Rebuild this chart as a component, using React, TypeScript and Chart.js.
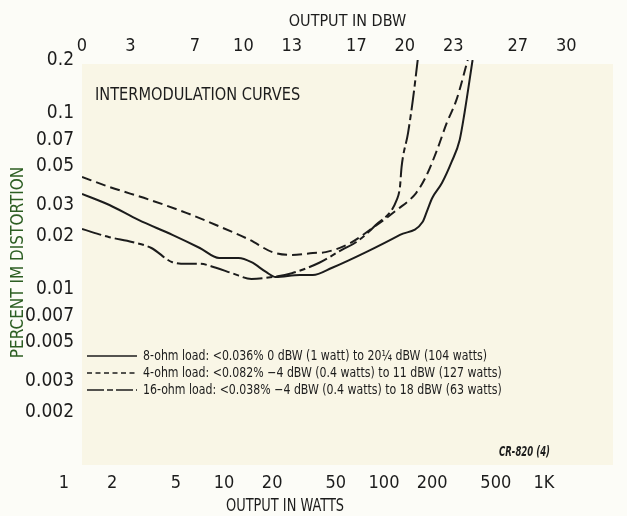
import React, { useEffect, useRef } from "react";
import { Chart, registerables } from "chart.js";

Chart.register(...registerables);

// ---- tick labels ----
const topTicksDbw = [0, 3, 7, 10, 13, 17, 20, 23, 27, 30];
const bottomTicksWatts = [1, 2, 5, 10, 20, 50, 100, 200, 500, 1000];
const bottomTickLabels = ["1", "2", "5", "10", "20", "50", "100", "200", "500", "1K"];
const yTicks = [0.2, 0.1, 0.07, 0.05, 0.03, 0.02, 0.01, 0.007, 0.005, 0.003, 0.002];

// ---- series (x: output in dBW, y: percent IM distortion) ----
const ohm8Dbw = [0, 1.7, 3.5, 5.6, 7.3, 8.5, 9.7, 10.5, 11.4, 12.0, 13.5, 14.3, 15.5, 17.6, 19.7, 21.1, 21.4, 21.7, 22.3, 22.9, 23.4, 23.7, 24.2];
const ohm8Pct = [0.0347, 0.03, 0.0247, 0.0203, 0.0171, 0.015, 0.015, 0.0142, 0.0125, 0.0117, 0.012, 0.012, 0.0132, 0.0162, 0.0203, 0.024, 0.0281, 0.0329, 0.04, 0.0527, 0.0703, 0.1, 0.2];

const ohm4Dbw = [0, 1.7, 4.2, 6.5, 8.3, 10.4, 11.8, 13.0, 14.3, 15.1, 16.6, 18.0, 19.5, 20.7, 21.3, 22.0, 22.6, 23.2, 23.9];
const ohm4Pct = [0.0433, 0.038, 0.0321, 0.027, 0.0231, 0.019, 0.0162, 0.0156, 0.016, 0.0162, 0.0182, 0.0222, 0.0281, 0.0351, 0.0433, 0.0617, 0.0878, 0.1186, 0.2];

const ohm16Dbw = [0, 1.7, 3.1, 4.3, 5.6, 6.5, 7.3, 8.3, 9.3, 10.5, 11.8, 13.0, 14.7, 16.1, 17.0, 18.2, 19.5, 19.7, 19.8, 20.2, 20.5, 20.8];
const ohm16Pct = [0.0219, 0.0197, 0.0185, 0.0171, 0.0142, 0.0139, 0.0139, 0.0132, 0.0123, 0.0114, 0.0117, 0.0123, 0.0141, 0.0167, 0.0185, 0.0231, 0.0321, 0.038, 0.0493, 0.0769, 0.1186, 0.2];

const legendLabels = [
  "8-ohm load: <0.036% 0 dBW (1 watt) to 20\u00BC dBW (104 watts)",
  "4-ohm load: <0.082% \u22124 dBW (0.4 watts) to 11 dBW (127 watts)",
  "16-ohm load: <0.038% \u22124 dBW (0.4 watts) to 18 dBW (63 watts)",
];
const legendDashes: number[][] = [[], [5, 3.5], [17, 3, 6, 3]];

const FONT = '"Liberation Sans Narrow", "DejaVu Sans Condensed", "Roboto Condensed", sans-serif';
const INK = "#1c1c1c";

const toPoints = (xs: number[], ys: number[]) => xs.map((x, i) => ({ x, y: ys[i] }));

// draw text horizontally squeezed by factor sx (condensed print face)
function condensedText(ctx: CanvasRenderingContext2D, text: string, x: number, y: number, sx: number) {
  ctx.save();
  ctx.translate(x, y);
  ctx.scale(sx, 1);
  ctx.fillText(text, 0, 0);
  ctx.restore();
}

const decorPlugin = {
  id: "decor",
  beforeDraw(chart: any) {
    const { ctx, chartArea: a, width, height } = chart;
    ctx.save();
    ctx.fillStyle = "#fcfcf7";
    ctx.fillRect(0, 0, width, height);
    ctx.fillStyle = "#f9f6e6";
    ctx.fillRect(a.left, a.top + 4, a.right - a.left, a.bottom - a.top - 4);
    ctx.restore();
  },
  afterDraw(chart: any) {
    const { ctx, chartArea: a } = chart;
    ctx.save();
    ctx.fillStyle = INK;
    ctx.textBaseline = "middle";
    // inner title
    ctx.font = `18px ${FONT}`;
    ctx.textAlign = "left";
    condensedText(ctx, "INTERMODULATION CURVES", a.left + 13, a.top + 35, 0.9);
    // legend
    ctx.font = `14px ${FONT}`;
    const sx = 344 / ctx.measureText(legendLabels[0]).width;
    legendLabels.forEach((t, i) => {
      const y = a.bottom - 109 + i * 17;
      ctx.beginPath();
      ctx.setLineDash(legendDashes[i]);
      ctx.lineWidth = 1.6;
      ctx.strokeStyle = INK;
      ctx.moveTo(a.left + 5, y);
      ctx.lineTo(a.left + 55, y);
      ctx.stroke();
      ctx.setLineDash([]);
      condensedText(ctx, t, a.left + 61, y, sx);
    });
    // figure code
    ctx.font = `italic bold 14px ${FONT}`;
    ctx.textAlign = "left";
    const cw = ctx.measureText("CR-820 (4)").width;
    condensedText(ctx, "CR-820 (4)", a.left + 417, a.bottom - 13, 51 / cw);
    // bottom axis title
    ctx.font = `18px ${FONT}`;
    ctx.textAlign = "center";
    condensedText(ctx, "OUTPUT IN WATTS", 285, chart.height - 10, 0.8);
    ctx.restore();
  },
};

export default function App() {
  const ref = useRef<HTMLCanvasElement | null>(null);
  useEffect(() => {
    if (!ref.current) return;
    const line = (label: string, xs: number[], ys: number[], dash: number[]) => ({
      label,
      data: toPoints(xs, ys),
      xAxisID: "x",
      yAxisID: "y",
      borderColor: INK,
      borderWidth: 2,
      borderDash: dash,
      pointRadius: 0,
      fill: false,
      cubicInterpolationMode: "monotone" as const,
    });
    const chart = new Chart(ref.current, {
      type: "line",
      data: {
        datasets: [
          line("8-ohm load", ohm8Dbw, ohm8Pct, []),
          line("4-ohm load", ohm4Dbw, ohm4Pct, [10, 5]),
          line("16-ohm load", ohm16Dbw, ohm16Pct, [20, 4, 6, 4]),
        ],
      },
      options: {
        responsive: false,
        animation: false,
        layout: { padding: { left: 0, right: 14, top: 0, bottom: 0 } },
        plugins: { legend: { display: false }, tooltip: { enabled: false } },
        scales: {
          x: {
            type: "linear",
            position: "top",
            min: 0,
            max: 32.9,
            grid: { display: false, drawTicks: false },
            border: { display: false },
            afterBuildTicks: (s: any) => {
              s.ticks = topTicksDbw.map((v) => ({ value: v }));
            },
            afterFit: (s: any) => {
              s.height = 60;
            },
            ticks: {
              autoSkip: false,
              maxRotation: 0,
              padding: 3,
              color: INK,
              font: { family: FONT, size: 18 },
              callback: (v: any) => String(v),
            },
            title: {
              display: true,
              text: "OUTPUT IN DBW",
              color: INK,
              font: { family: FONT, size: 16 },
              padding: { top: 12, bottom: 0 },
            },
          },
          xb: {
            type: "logarithmic",
            position: "bottom",
            min: 1.296,
            max: 2700,
            grid: { display: false, drawTicks: false },
            border: { display: false },
            afterBuildTicks: (s: any) => {
              s.ticks = bottomTicksWatts.map((v) => ({ value: v }));
            },
            afterFit: (s: any) => {
              s.height = 51;
            },
            ticks: {
              autoSkip: false,
              maxRotation: 0,
              padding: 8,
              color: INK,
              font: { family: FONT, size: 18 },
              callback: (v: any) => {
                const i = bottomTicksWatts.indexOf(Number(v));
                return i >= 0 ? bottomTickLabels[i] : "";
              },
            },
          },
          y: {
            type: "logarithmic",
            position: "left",
            min: 0.001,
            max: 0.2,
            grid: { display: false, drawTicks: false },
            border: { display: false },
            afterBuildTicks: (s: any) => {
              s.ticks = yTicks.map((v) => ({ value: v }));
            },
            afterFit: (s: any) => {
              s.width = 82;
            },
            ticks: {
              autoSkip: false,
              padding: 8,
              color: INK,
              font: { family: FONT, size: 19 },
              callback: (v: any) => String(v),
            },
            title: {
              display: true,
              text: "PERCENT IM DISTORTION",
              color: "#2c5e22",
              font: { family: FONT, size: 17 },
              padding: { top: 8, bottom: 0 },
            },
          },
        },
      },
      plugins: [decorPlugin],
    });
    return () => chart.destroy();
  }, []);
  return (
    <div style={{ position: "fixed", left: 0, top: 0, width: 627, height: 516, background: "#fcfcf7" }}>
      <canvas ref={ref} width={627} height={516} style={{ display: "block" }} />
    </div>
  );
}
